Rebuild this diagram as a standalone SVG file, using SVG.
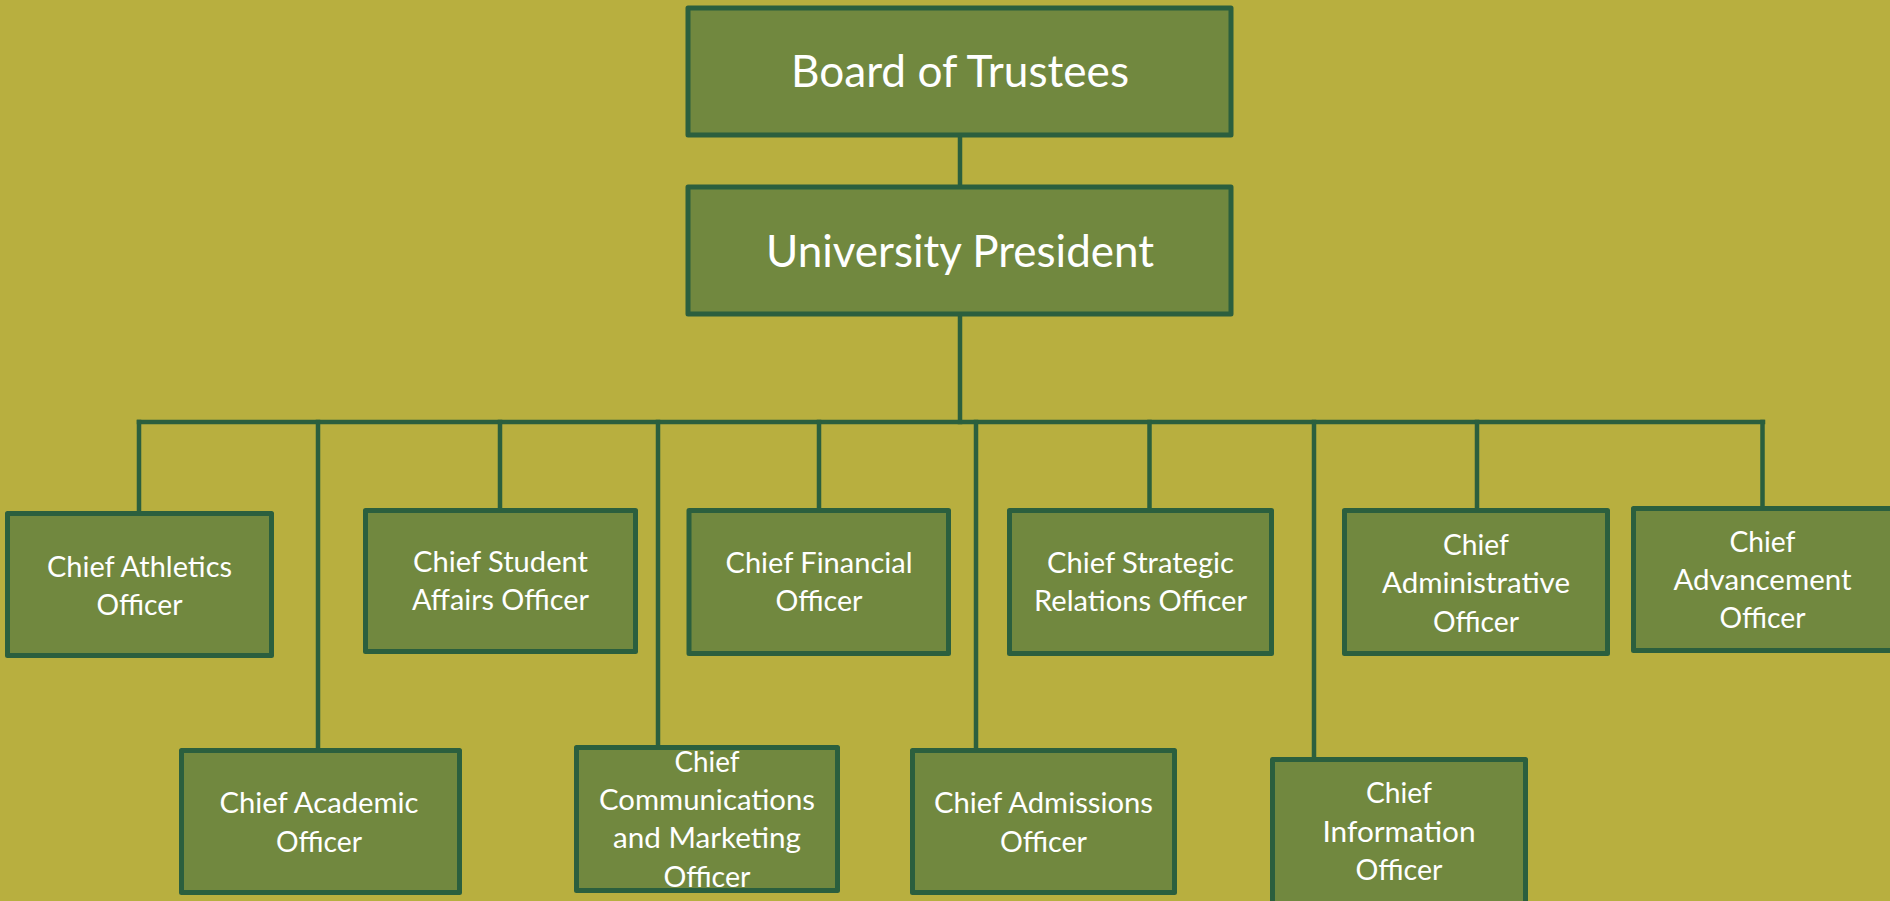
<svg xmlns="http://www.w3.org/2000/svg" width="1890" height="901" viewBox="0 0 1890 901">
<style>
.bg{fill:#b8af3f}
.box{fill:#71883f;stroke:#2b5f3e;stroke-width:5;stroke-linejoin:round}
.conn{stroke:#2b5f3e;stroke-width:4.5;fill:none;stroke-linecap:square}
.t{fill:#ffffff;font-family:Lato,"Open Sans","Liberation Sans",sans-serif;font-size:29px;text-anchor:middle}
.big{font-size:44px}
</style>
<rect class="bg" x="0" y="0" width="1890" height="901"/>
<g id="connectors">
<line class="conn" x1="960" y1="135" x2="960" y2="187"/>
<line class="conn" x1="960" y1="314" x2="960" y2="422"/>
<line class="conn" x1="139" y1="422" x2="1763" y2="422"/>
<line class="conn" x1="139" y1="422" x2="139" y2="513"/>
<line class="conn" x1="318" y1="422" x2="318" y2="750"/>
<line class="conn" x1="500" y1="422" x2="500" y2="510"/>
<line class="conn" x1="658" y1="422" x2="658" y2="747"/>
<line class="conn" x1="819" y1="422" x2="819" y2="510"/>
<line class="conn" x1="976" y1="422" x2="976" y2="750"/>
<line class="conn" x1="1149.5" y1="422" x2="1149.5" y2="510"/>
<line class="conn" x1="1314" y1="422" x2="1314" y2="759"/>
<line class="conn" x1="1477" y1="422" x2="1477" y2="510"/>
<line class="conn" x1="1762.5" y1="422" x2="1762.5" y2="508"/>
</g>
<g id="board">
<rect class="box" x="688" y="8" width="543" height="127"/>
<text class="t big" x="960" y="87" textLength="338" lengthAdjust="spacingAndGlyphs">Board of Trustees</text>
</g>
<g id="president">
<rect class="box" x="688" y="187" width="543" height="127"/>
<text class="t big" x="960" y="267" textLength="388" lengthAdjust="spacingAndGlyphs">University President</text>
</g>
<g id="athletics">
<rect class="box" x="7.5" y="513.5" width="264" height="142"/>
<text class="t" x="139.5" y="577" textLength="185" lengthAdjust="spacingAndGlyphs">Chief Athletics</text>
<text class="t" x="139.5" y="615" textLength="86" lengthAdjust="spacingAndGlyphs">Officer</text>
</g>
<g id="student-affairs">
<rect class="box" x="365.5" y="510.5" width="270" height="141"/>
<text class="t" x="500.5" y="572" textLength="175" lengthAdjust="spacingAndGlyphs">Chief Student</text>
<text class="t" x="500.5" y="610" textLength="177" lengthAdjust="spacingAndGlyphs">Affairs Officer</text>
</g>
<g id="financial">
<rect class="box" x="689" y="510.5" width="259.5" height="143"/>
<text class="t" x="819" y="573" textLength="187" lengthAdjust="spacingAndGlyphs">Chief Financial</text>
<text class="t" x="819" y="611" textLength="87" lengthAdjust="spacingAndGlyphs">Officer</text>
</g>
<g id="strategic">
<rect class="box" x="1009.5" y="510.5" width="262" height="143"/>
<text class="t" x="1140.5" y="573" textLength="187" lengthAdjust="spacingAndGlyphs">Chief Strategic</text>
<text class="t" x="1140.5" y="611" textLength="213" lengthAdjust="spacingAndGlyphs">Relations Officer</text>
</g>
<g id="administrative">
<rect class="box" x="1344.5" y="510.5" width="263" height="143"/>
<text class="t" x="1476" y="555" textLength="66" lengthAdjust="spacingAndGlyphs">Chief</text>
<text class="t" x="1476" y="593" textLength="188" lengthAdjust="spacingAndGlyphs">Administrative</text>
<text class="t" x="1476" y="632" textLength="86" lengthAdjust="spacingAndGlyphs">Officer</text>
</g>
<g id="advancement">
<rect class="box" x="1633.5" y="508.5" width="263" height="142"/>
<text class="t" x="1762.5" y="552" textLength="66" lengthAdjust="spacingAndGlyphs">Chief</text>
<text class="t" x="1762.5" y="590" textLength="178" lengthAdjust="spacingAndGlyphs">Advancement</text>
<text class="t" x="1762.5" y="628" textLength="86" lengthAdjust="spacingAndGlyphs">Officer</text>
</g>
<g id="academic">
<rect class="box" x="181.5" y="750.5" width="278" height="142"/>
<text class="t" x="319" y="813" textLength="199" lengthAdjust="spacingAndGlyphs">Chief Academic</text>
<text class="t" x="319" y="852" textLength="86" lengthAdjust="spacingAndGlyphs">Officer</text>
</g>
<g id="communications">
<rect class="box" x="576.5" y="747.5" width="261" height="143"/>
<text class="t" x="707" y="772" textLength="65" lengthAdjust="spacingAndGlyphs">Chief</text>
<text class="t" x="707" y="810" textLength="216" lengthAdjust="spacingAndGlyphs">Communications</text>
<text class="t" x="707" y="848" textLength="188" lengthAdjust="spacingAndGlyphs">and Marketing</text>
<text class="t" x="707" y="887" textLength="87" lengthAdjust="spacingAndGlyphs">Officer</text>
</g>
<g id="admissions">
<rect class="box" x="912.5" y="750.5" width="262" height="142"/>
<text class="t" x="1043.5" y="813" textLength="219" lengthAdjust="spacingAndGlyphs">Chief Admissions</text>
<text class="t" x="1043.5" y="852" textLength="87" lengthAdjust="spacingAndGlyphs">Officer</text>
</g>
<g id="information">
<rect class="box" x="1272.5" y="759.5" width="253" height="150"/>
<text class="t" x="1399" y="803" textLength="66" lengthAdjust="spacingAndGlyphs">Chief</text>
<text class="t" x="1399" y="842" textLength="153" lengthAdjust="spacingAndGlyphs">Information</text>
<text class="t" x="1399" y="880" textLength="87" lengthAdjust="spacingAndGlyphs">Officer</text>
</g>
</svg>
